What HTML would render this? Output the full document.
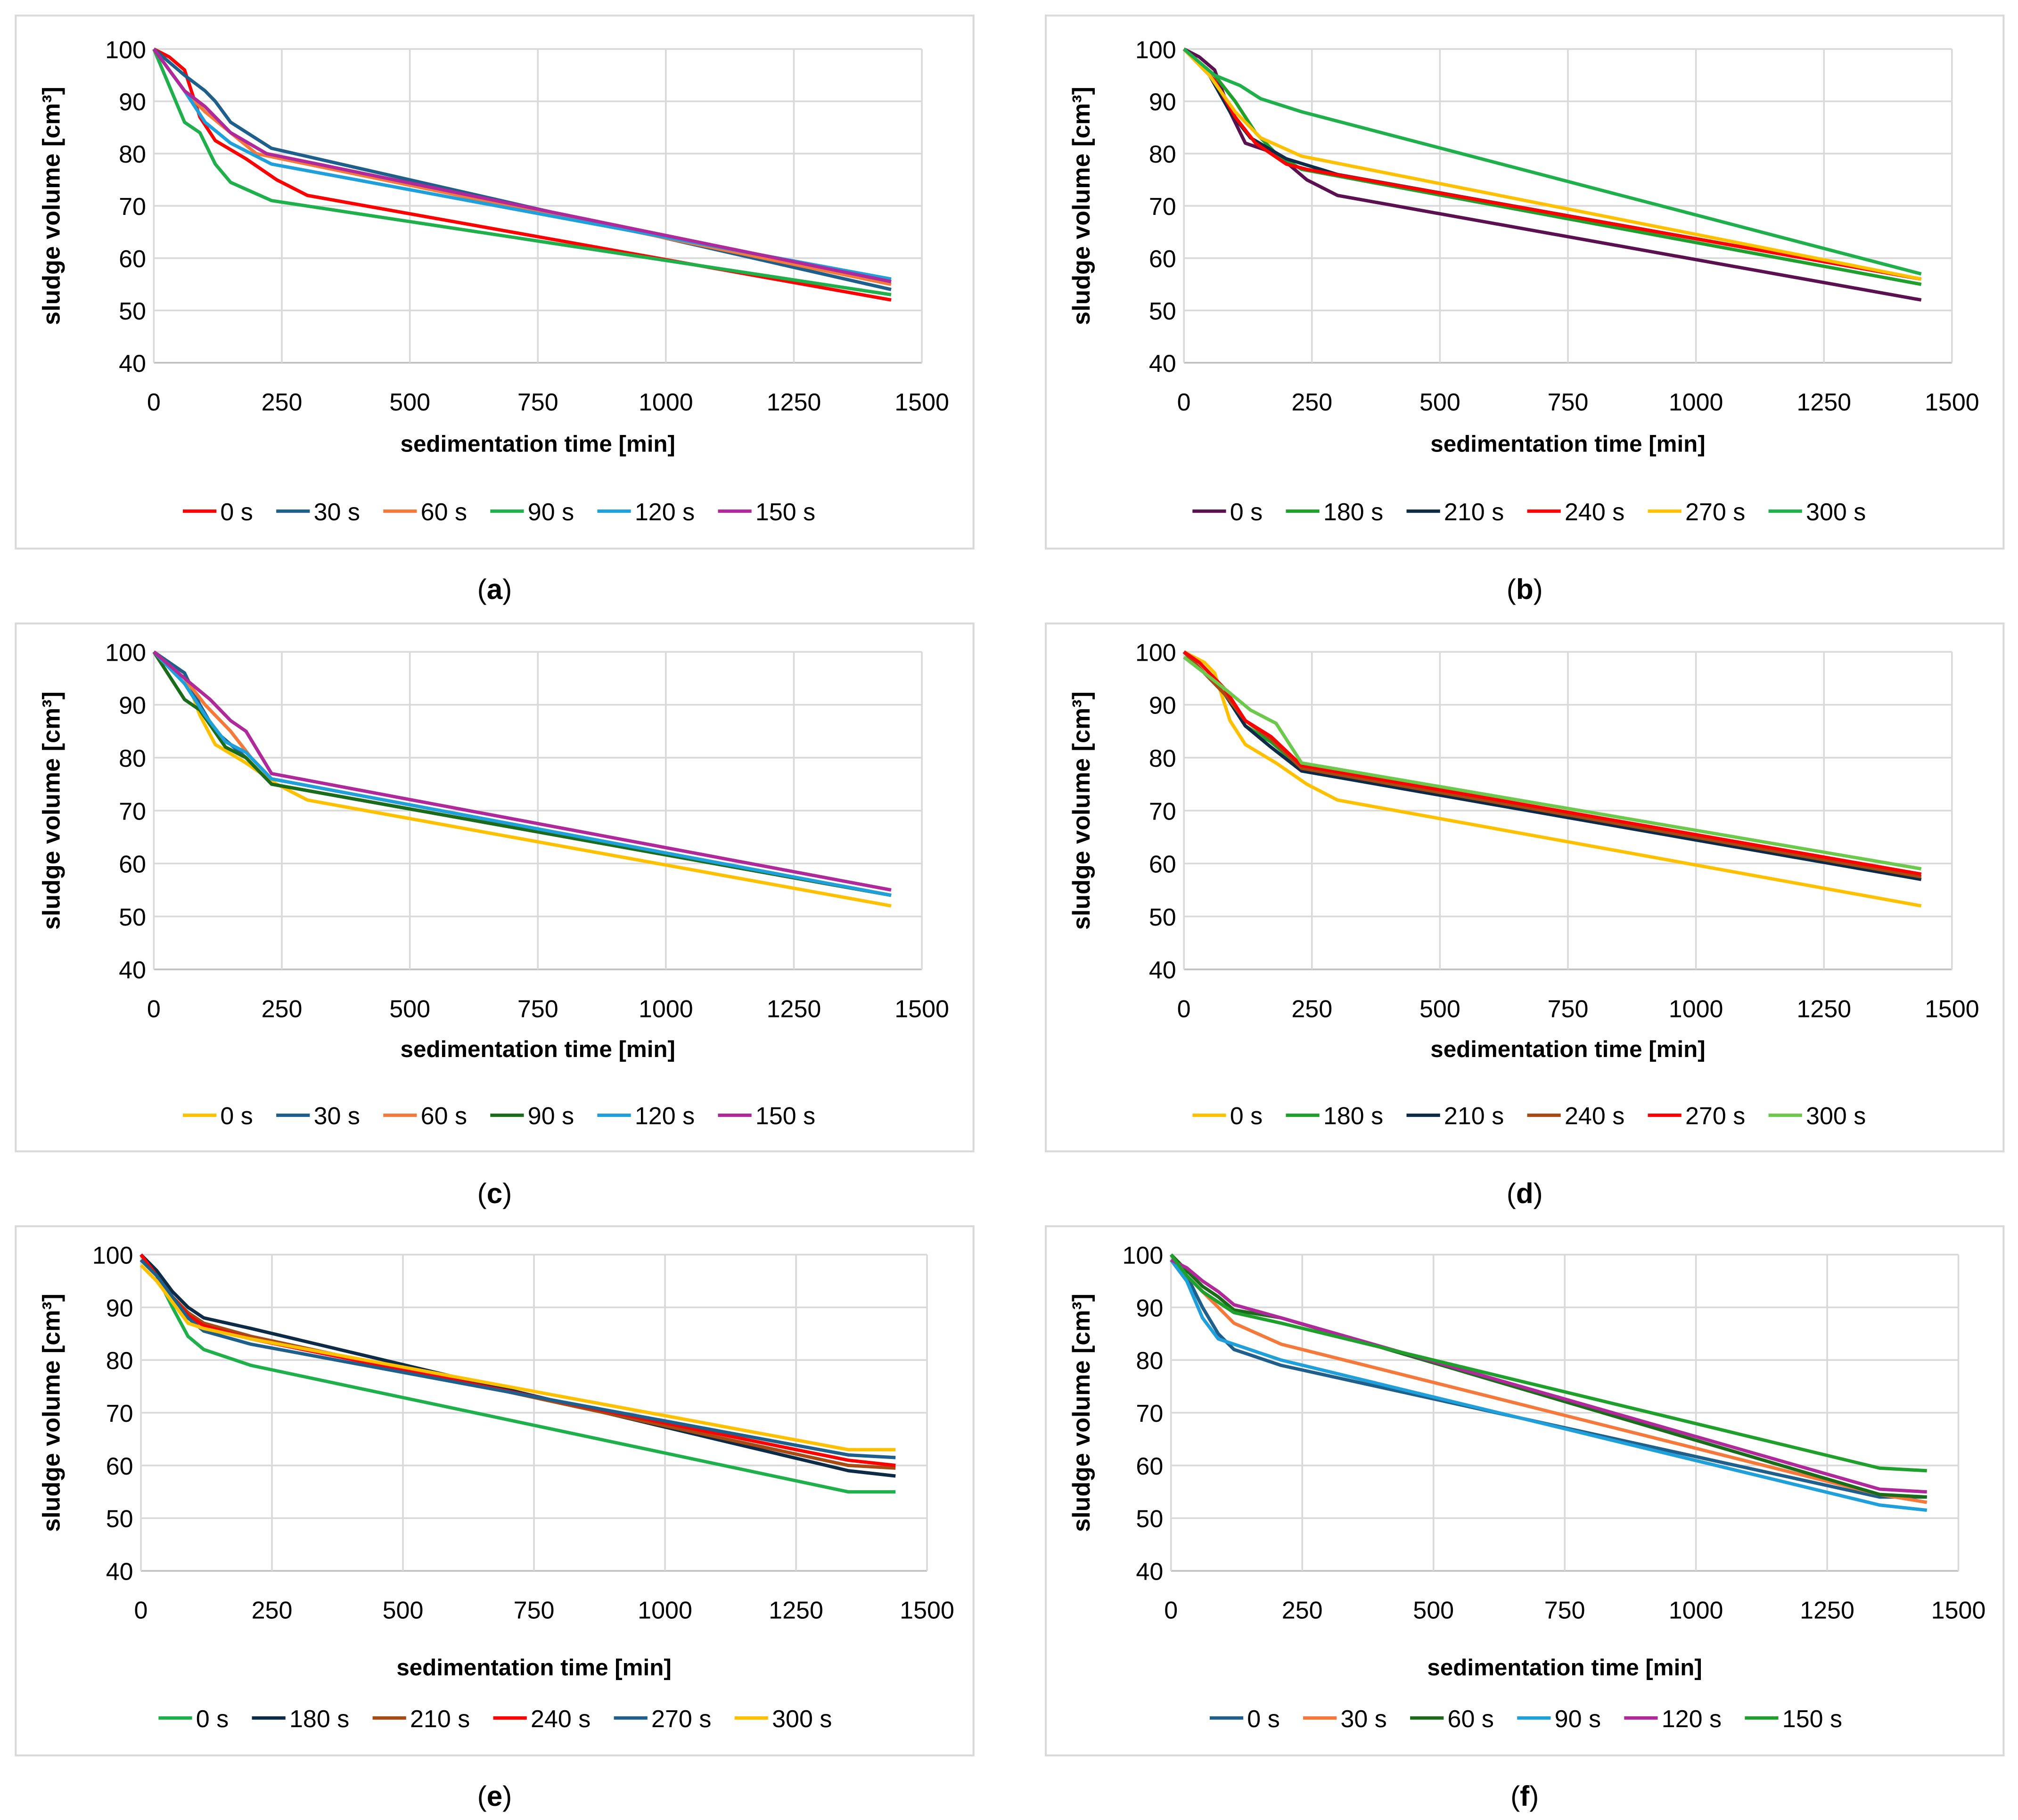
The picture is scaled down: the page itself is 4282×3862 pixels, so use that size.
<!DOCTYPE html>
<html><head><meta charset="utf-8">
<style>
html,body{margin:0;padding:0;background:#fff;}
svg{display:block;}
text{font-family:"Liberation Sans",sans-serif;}
</style></head>
<body>
<svg id="fig" width="4282" height="3862" viewBox="0 0 1563 1410" xmlns="http://www.w3.org/2000/svg"></svg>
<script>
// ---------- data ----------
const panelLabels = ["(a)","(b)","(c)","(d)","(e)","(f)"];
const xTicks = [0,250,500,750,1000,1250,1500];
const yTicks = [40,50,60,70,80,90,100];

const aNames = ["0 s","30 s","60 s","90 s","120 s","150 s"];
const aColors = ["#ff0000","#1f5f8b","#f4793b","#1fb04c","#1fa0db","#b0299b"];
const aT = [[0,30,60,90,120,180,240,300,1440],[0,60,100,120,150,230,1440],[0,60,100,150,200,1440],[0,60,90,120,150,230,1440],[0,60,100,150,230,1440],[0,60,100,150,220,1440]];
const aV = [[100,98.5,96,87,82.5,79,75,72,52],[100,95,92,90,86,81,54],[100,92,88,84,80,55],[100,86,84,78,74.5,71,53],[100,92,86,82,78,56],[100,92,89,84,80,55.5]];

const bNames = ["0 s","180 s","210 s","240 s","270 s","300 s"];
const bColors = ["#5b1050","#1fa02c","#0d2a47","#ff0000","#ffc000","#1fb04c"];
const bT = [[0,30,60,90,120,180,240,300,1440],[0,60,100,140,180,230,1440],[0,50,90,130,200,300,1440],[0,60,100,140,200,240,1440],[0,50,100,150,230,1440],[0,60,110,150,230,1440]];
const bV = [[100,98.5,96,88,82,80,75,72,52],[100,95,90,84,80,77,55],[100,95,88,83,79,76,56],[100,94,87,82,78,77,56],[100,95,88,83,79.5,56],[100,95,93,90.5,88,57]];

const cNames = ["0 s","30 s","60 s","90 s","120 s","150 s"];
const cColors = ["#ffc000","#1f5f8b","#f4793b","#1a6b1a","#1fa0db","#b0299b"];
const cT = [[0,60,90,120,180,240,300,1440],[0,60,90,120,180,230,1440],[0,60,100,150,190,230,1440],[0,60,90,140,180,230,1440],[0,60,100,140,180,230,1440],[0,60,110,150,180,230,1440]];
const cV = [[100,96,88,82.5,79,75,72,52],[100,96,90,85,80,75,54],[100,95,90,85,80,76,54],[100,91,89,82,80,75,54],[100,94,88,83,81,76,54],[100,95,91,87,85,77,55]];

const dNames = ["0 s","180 s","210 s","240 s","270 s","300 s"];
const dColors = ["#ffc000","#1fa02c","#0d2a47","#a84a14","#ff0000","#6cc94b"];
const dT = [[0,40,60,90,120,180,240,300,1440],[0,30,80,120,170,230,1440],[0,30,80,120,170,230,1440],[0,30,80,120,170,230,1440],[0,30,80,120,170,230,1440],[0,40,80,130,180,230,1440]];
const dV = [[100,98,96,87,82.5,79,75,72,52],[100,97,92,86,83,78,57.5],[100,97,92,86,82,77.5,57],[100,97,92,87,83.5,78,57.5],[100,98,93,87,84,78.5,58],[99,96,93,89,86.5,79,59]];

const eNames = ["0 s","180 s","210 s","240 s","270 s","300 s"];
const eColors = ["#1fb04c","#0d2a47","#a84a14","#ff0000","#1f5f8b","#ffc000"];
const eT = [0,30,60,90,120,210,1350,1440];
const eV = [[100,96,90,84.5,82,79,55,55],[100,97,93,90,88,86,59,58],[100,96,92,89,87,84.5,60,59.5],[100,96,92,88.5,86.5,84,61,60],[99,96,92,88,85.5,83,62,61.5],[98,95,91,87,86,84,63,63]];

const fNames = ["0 s","30 s","60 s","90 s","120 s","150 s"];
const fColors = ["#1f5f8b","#f4793b","#1a6b1a","#1fa0db","#b0299b","#1fa02c"];
const fT = [0,30,60,90,120,210,1350,1440];
const fV = [[100,96,90,85,82,79,54,54],[99,96,93,90,87,83,54.5,53],[100,97,94,92,89.5,88,54.5,54],[99,95,88,84,83,80,52.5,51.5],[99,97.5,95,93,90.5,88,55.5,55],[100,96,93,91,89,87,59.5,59]];

// ---------- layout ----------
const NS="http://www.w3.org/2000/svg";
const svg=document.getElementById('fig');
function mk(tag,attrs,parent){const e=document.createElementNS(NS,tag);for(const k in attrs)e.setAttribute(k,attrs[k]);(parent||svg).appendChild(e);return e;}

const panels=[
 {box:[12,12,742,413],px0:119,px1:714,py0:38,py1:281,tickY:318,titleY:350,legY:396,capY:464,names:aNames,colors:aColors,T:aT,V:aV,shared:false},
 {box:[810,12,742,413],px0:917,px1:1512,py0:38,py1:281,tickY:318,titleY:350,legY:396,capY:464,names:bNames,colors:bColors,T:bT,V:bV,shared:false},
 {box:[12,483,742,409],px0:119,px1:714,py0:505,py1:751,tickY:788,titleY:819,legY:864,capY:932,names:cNames,colors:cColors,T:cT,V:cV,shared:false},
 {box:[810,483,742,409],px0:917,px1:1512,py0:505,py1:751,tickY:788,titleY:819,legY:864,capY:932,names:dNames,colors:dColors,T:dT,V:dV,shared:false},
 {box:[12,950,742,410],px0:109,px1:718,py0:972,py1:1217,tickY:1254,titleY:1298,legY:1331,capY:1399,names:eNames,colors:eColors,T:eT,V:eV,shared:true},
 {box:[810,950,742,410],px0:907,px1:1517,py0:972,py1:1217,tickY:1254,titleY:1298,legY:1331,capY:1399,names:fNames,colors:fColors,T:fT,V:fV,shared:true}
];

panels.forEach((p,pi)=>{
  const g=mk('g',{});
  
  
  const [bx,by,bw,bh]=p.box;
  mk('rect',{x:bx,y:by,width:bw,height:bh,fill:'#fff',stroke:'#d9d9d9','stroke-width':1.5},g);
  const xs=t=>p.px0+(t-0)/(1500-0)*(p.px1-p.px0);
  const ys=v=>p.py1-(v-40)/(100-40)*(p.py1-p.py0);
  yTicks.forEach(v=>{
    const l=mk('line',{x1:p.px0,x2:p.px1,y1:ys(v),y2:ys(v),stroke:v===40?'#bfbfbf':'#d9d9d9','stroke-width':1.3},g);
    
    const t=mk('text',{x:p.px0-6,y:ys(v)+7,'text-anchor':'end','font-size':19,fill:'#000'},g);
    t.textContent=v;
  });
  xTicks.forEach(v=>{
    const l=mk('line',{x1:xs(v),x2:xs(v),y1:p.py0,y2:p.py1,stroke:'#d9d9d9','stroke-width':1.3},g);
    
    const t=mk('text',{x:xs(v),y:p.tickY,'text-anchor':'middle','font-size':19,fill:'#000'},g);
    t.textContent=v;
  });
  const xt=mk('text',{x:(p.px0+p.px1)/2,y:p.titleY,'text-anchor':'middle','font-size':18,'font-weight':'bold'},g);
  xt.textContent='sedimentation time [min]';
  const ycx=bx+34, ycy=(p.py0+p.py1)/2;
  const yt=mk('text',{x:ycx,y:ycy,'text-anchor':'middle','font-size':19,'font-weight':'bold',transform:`rotate(-90 ${ycx} ${ycy})`},g);
  yt.textContent='sludge volume [cm³]';
  // series
  p.V.forEach((vals,si)=>{
    const ts=p.shared?p.T:p.T[si];
    const pts=vals.map((v,i)=>xs(ts[i]).toFixed(1)+','+ys(v).toFixed(1)).join(' ');
    const pl=mk('polyline',{points:pts,fill:'none',stroke:p.colors[si],'stroke-width':2.6,'stroke-linejoin':'round'},g);
    
    
  });
  // legend
  const lg=mk('g',{},g);
  
  let x=0;
  p.names.forEach((n,si)=>{
    const it=mk('g',{},lg);
    
    mk('line',{x1:x,x2:x+26,y1:0,y2:0,stroke:p.colors[si],'stroke-width':2.6},it);
    const t=mk('text',{x:x+29,y:7,'font-size':19},it);t.textContent=n;
    x+=29+t.getComputedTextLength()+18;
  });
  const total=x-18;
  const cx=(p.px0+p.px1)/2-30;
  lg.setAttribute('transform',`translate(${cx-total/2},${p.legY})`);
  const cap=mk('text',{x:bx+bw/2,y:p.capY,'text-anchor':'middle','font-size':22,'font-family':'Liberation Serif, serif'},svg);
  cap.innerHTML=panelLabels[pi].replace(/\((.)\)/,'(<tspan font-weight="bold">$1</tspan>)');
  
});
</script>
</body></html>
